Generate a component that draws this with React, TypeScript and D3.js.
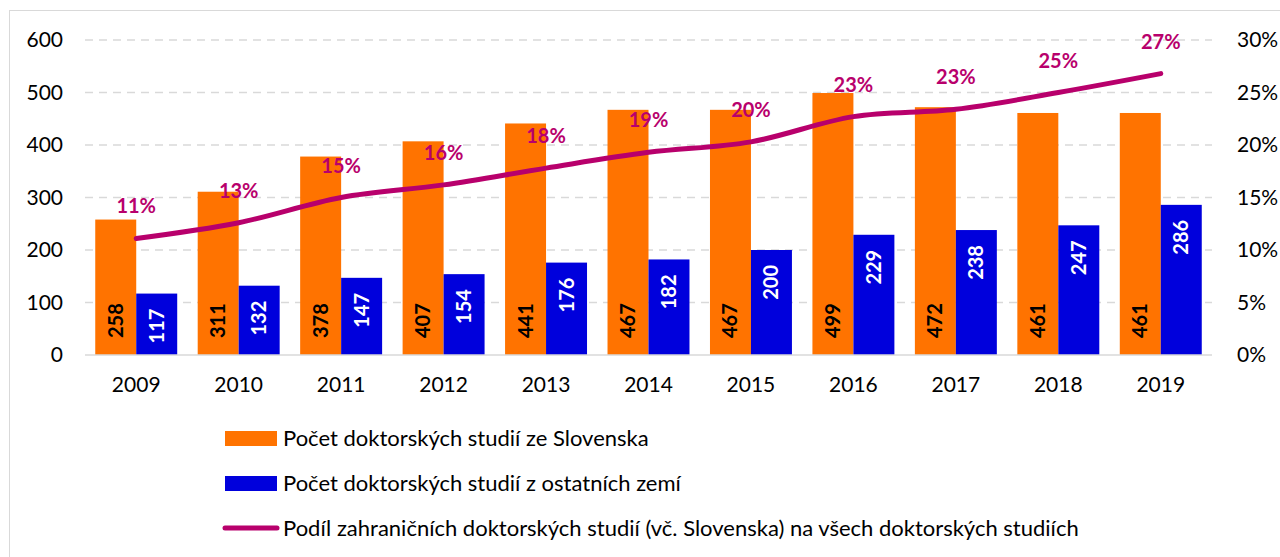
import React from "react";
import * as d3 from "d3";

const years = ["2009", "2010", "2011", "2012", "2013", "2014", "2015", "2016", "2017", "2018", "2019"];
const slovakia = [258, 311, 378, 407, 441, 467, 467, 499, 472, 461, 461];
const otherCountries = [117, 132, 147, 154, 176, 182, 200, 229, 238, 247, 286];
const foreignShare = [0.111, 0.126, 0.15, 0.162, 0.178, 0.193, 0.203, 0.227, 0.234, 0.25, 0.268];
const leftTicks = [0, 100, 200, 300, 400, 500, 600];
const rightTicks = [0, 0.05, 0.1, 0.15, 0.2, 0.25, 0.3];
const legendLabels = [
  "Počet doktorských studií ze Slovenska",
  "Počet doktorských studií z ostatních zemí",
  "Podíl zahraničních doktorských studií (vč. Slovenska) na všech doktorských studiích",
];

const ORANGE = "#FF7300";
const BLUE = "#0000DC";
const MAGENTA = "#B8006C";
const FONT = "Lato, 'Open Sans', sans-serif";

export default function App() {
  const left = 85;
  const right = 1212;
  const top = 40;
  const bottom = 355;

  const x = d3.scaleBand<string>().domain(years).range([left, right]).paddingInner(0.2).paddingOuter(0.1);
  const x0 = d3.scaleBand<string>().domain(years).range([left, right]);
  const inner = d3.scaleBand<string>().domain(["sk", "ot"]).range([0, x.bandwidth()]);
  const y = d3.scaleLinear().domain([0, 600]).range([bottom, top]);
  const y2 = d3.scaleLinear().domain([0, 0.3]).range([bottom, top]);
  const cx = (yr: string) => (x0(yr) as number) + x0.bandwidth() / 2;
  const bx = (yr: string) => cx(yr) - x.bandwidth() / 2;

  const line = d3
    .line<number>()
    .x((_, i) => cx(years[i]))
    .y((d) => y2(d))
    .curve(d3.curveCatmullRom.alpha(0.5));

  const pct = d3.format(".0%");

  return (
    <svg width={1280} height={557} style={{ position: "absolute", left: 0, top: 0, background: "#fff" }} fontFamily={FONT}>
      <rect x={9.5} y={10.5} width={1400} height={700} fill="#fff" stroke="#D9D9D9" strokeWidth={1} />
      {leftTicks.slice(1).map((t) => (
        <line key={t} x1={left} x2={right} y1={y(t)} y2={y(t)} stroke="#D9D9D9" strokeWidth={1.5} strokeDasharray="8,6" />
      ))}
      {years.map((yr, i) => (
        <g key={yr}>
          <rect x={bx(yr) + (inner("sk") as number)} y={y(slovakia[i])} width={inner.bandwidth()} height={bottom - y(slovakia[i])} fill={ORANGE} />
          <rect x={bx(yr) + (inner("ot") as number)} y={y(otherCountries[i])} width={inner.bandwidth()} height={bottom - y(otherCountries[i])} fill={BLUE} />
        </g>
      ))}
      <line x1={left} x2={right} y1={bottom} y2={bottom} stroke="#D9D9D9" strokeWidth={1.5} />
      {years.map((yr, i) => {
        const xs = bx(yr) + (inner("sk") as number) + inner.bandwidth() / 2;
        const xo = bx(yr) + (inner("ot") as number) + inner.bandwidth() / 2;
        return (
          <g key={"l" + yr} fontSize={20} fontWeight={700}>
            <text transform={`translate(${xs + 7},${bottom - 17}) rotate(-90)`} fill="#000" textAnchor="start">
              {slovakia[i]}
            </text>
            <text transform={`translate(${xo + 7},${y(otherCountries[i]) + 15}) rotate(-90)`} fill="#fff" textAnchor="end">
              {otherCountries[i]}
            </text>
          </g>
        );
      })}
      <path d={line(foreignShare) || ""} fill="none" stroke={MAGENTA} strokeWidth={5} strokeLinecap="round" />
      {foreignShare.map((v, i) => (
        <text key={"p" + i} x={cx(years[i])} y={y2(v) - 32} dy="0.35em" textAnchor="middle" fontSize={20} fontWeight={700} fill={MAGENTA}>
          {pct(v)}
        </text>
      ))}
      {leftTicks.map((t) => (
        <text key={"yl" + t} x={63} y={y(t)} dy="0.35em" textAnchor="end" fontSize={21} fill="#000">
          {t}
        </text>
      ))}
      {rightTicks.map((t) => (
        <text key={"yr" + t} x={1237} y={y2(t)} dy="0.35em" textAnchor="start" fontSize={21} fill="#000">
          {pct(t)}
        </text>
      ))}
      {years.map((yr) => (
        <text key={"x" + yr} x={cx(yr)} y={385} dy="0.35em" textAnchor="middle" fontSize={21} fill="#000">
          {yr}
        </text>
      ))}
      <g fontSize={22} fill="#000">
        <rect x={225} y={431} width={52} height={15} fill={ORANGE} />
        <text x={283} y={438} dy="0.35em">{legendLabels[0]}</text>
        <rect x={225} y={476} width={52} height={15} fill={BLUE} />
        <text x={283} y={483} dy="0.35em">{legendLabels[1]}</text>
        <line x1={225} x2={277} y1={528} y2={528} stroke={MAGENTA} strokeWidth={5} strokeLinecap="round" />
        <text x={283} y={528} dy="0.35em">{legendLabels[2]}</text>
      </g>
    </svg>
  );
}
